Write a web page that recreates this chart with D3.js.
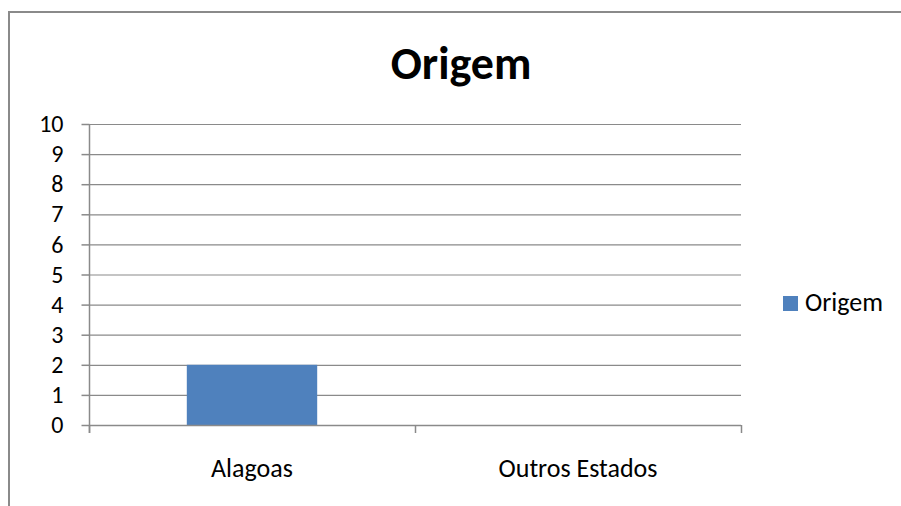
<!DOCTYPE html>
<html>
<head>
<meta charset="utf-8">
<script src="https://cdn.jsdelivr.net/npm/d3@7"></script>
<style>
  body { margin: 0; background: #fff; }
  svg text { font-family: Carlito, Calibri, Lato, sans-serif; fill: #000; }
</style>
</head>
<body>
<div id="chart"></div>
<script>
var categories = ["Alagoas", "Outros Estados"];
var values = [2, 0];
var yTicks = [0, 1, 2, 3, 4, 5, 6, 7, 8, 9, 10];
var seriesName = "Origem";
var title = "Origem";

var width = 901, height = 506;
var plotLeft = 89, plotRight = 741, plotTop = 124, plotBottom = 425;

var svg = d3.select("#chart")
    .append("svg")
    .attr("width", width)
    .attr("height", height)

// chart frame, right and bottom edges run off the picture
svg.append("rect")
    .attr("x", 9)
    .attr("y", 12)
    .attr("width", 920)
    .attr("height", 520)
    .attr("fill", "none")
    .attr("stroke", "#8a8a8a")
    .attr("stroke-width", 2)

var x = d3.scaleBand()
    .domain(categories)
    .range([plotLeft, plotRight])

var y = d3.scaleLinear()
    .domain([0, 10])
    .range([plotBottom, plotTop])

// gridlines
svg.append("g")
    .selectAll("line")
    .data(yTicks)
    .enter()
    .append("line")
    .attr("x1", plotLeft)
    .attr("x2", plotRight)
    .attr("y1", d => y(d) + 0.5)
    .attr("y2", d => y(d) + 0.5)
    .attr("stroke", "#8a8a8a")
    .attr("stroke-width", 1.2)

// bars
svg.append("g")
    .selectAll("rect")
    .data(values)
    .enter()
    .append("rect")
    .attr("x", (d, i) => x(categories[i]) + x.bandwidth() * 0.3)
    .attr("width", x.bandwidth() * 0.4)
    .attr("y", d => y(d))
    .attr("height", d => y(0) - y(d))
    .attr("fill", "#4f81bd")

// y axis
var yAxis = svg.append("g")
    .attr("transform", "translate(" + (plotLeft + 0.5) + ",0)")
    .call(d3.axisLeft(y).tickValues(yTicks).tickSize(8).tickPadding(18).tickSizeOuter(0))
yAxis.selectAll("line, path").attr("stroke", "#8a8a8a").attr("stroke-width", 1.5)
yAxis.selectAll("text").style("font-size", "24px").attr("fill", "#000")
yAxis.select(".domain").attr("d", "M0," + plotTop + "V" + (plotBottom + 8))

// x axis
var xAxis = svg.append("g")
    .attr("transform", "translate(0," + (plotBottom + 0.5) + ")")
    .call(d3.axisBottom(x).tickSize(0).tickPadding(33))
xAxis.select(".domain").attr("stroke", "#8a8a8a").attr("stroke-width", 1.5)
    .attr("d", "M" + plotLeft + ",0H" + plotRight)
xAxis.selectAll(".tick line").remove()
xAxis.selectAll("text").style("font-size", "26px").attr("fill", "#000")

// category boundary ticks
var bounds = categories.map(c => x(c)).concat([plotRight])
svg.append("g")
    .selectAll("line")
    .data(bounds)
    .enter()
    .append("line")
    .attr("x1", d => d + 0.5)
    .attr("x2", d => d + 0.5)
    .attr("y1", plotBottom)
    .attr("y2", plotBottom + 8)
    .attr("stroke", "#8a8a8a")
    .attr("stroke-width", 1.5)

// title
svg.append("text")
    .attr("x", 461)
    .attr("y", 79)
    .style("text-anchor", "middle")
    .style("font-size", "46px")
    .style("font-weight", "bold")
    .text(title)

// legend
var legend = svg.append("g").attr("transform", "translate(783,296)")
legend.append("rect")
    .attr("width", 15)
    .attr("height", 15)
    .attr("fill", "#4f81bd")
legend.append("text")
    .attr("x", 22)
    .attr("y", 15)
    .style("font-size", "26px")
    .text(seriesName)
</script>
</body>
</html>
